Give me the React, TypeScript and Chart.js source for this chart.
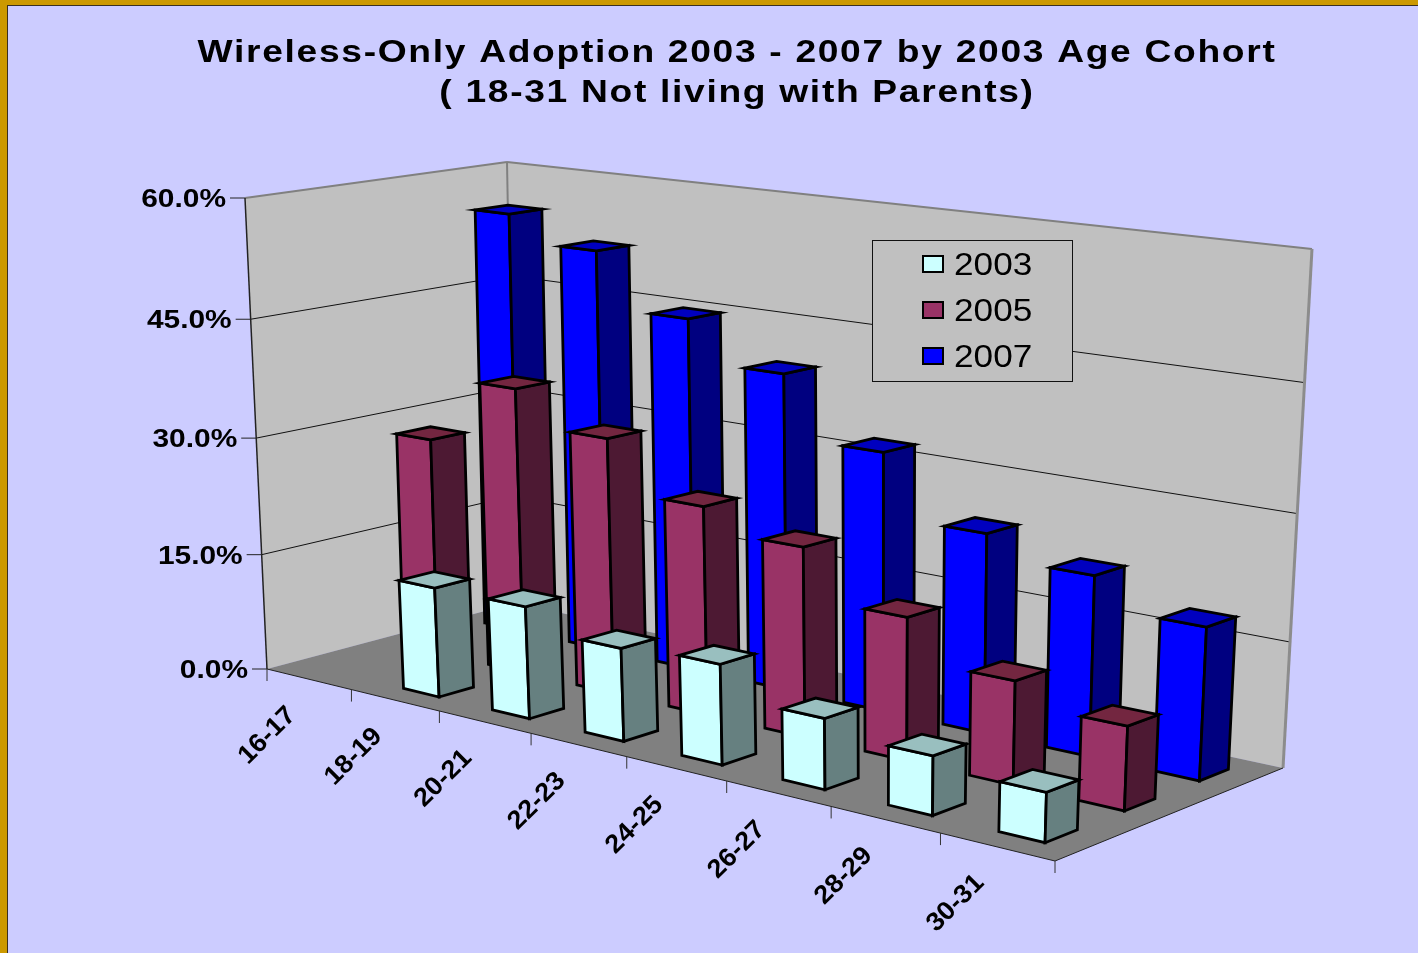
import React, { useEffect, useRef } from "react";
import { Chart, registerables } from "chart.js";

Chart.register(...registerables);

// Chart content
const titleLines = ["Wireless-Only Adoption 2003 - 2007 by 2003 Age Cohort", "( 18-31 Not living with Parents)"];
const ageCohorts = ["16-17", "18-19", "20-21", "22-23", "24-25", "26-27", "28-29", "30-31"];
const seriesNames = ["2003", "2005", "2007"];
const values2003 = [null, 13.9, 14, 11.4, 12.1, 8.4, 6.9, 5.7];
const values2005 = [28.1, 36.5, 32.2, 25.9, 23.2, 17.2, 12.3, 9.8];
const values2007 = [55.2, 51.9, 44.9, 39.8, 32.1, 24.4, 21.7, 18.1];

const frontColors = ["#CCFFFF", "#993366", "#0000FF"];
const sideColors = ["#668080", "#4D1933", "#000080"];
const topColors = ["#99BFBF", "#732640", "#0000BF"];

type Pt = [number, number];

// Plot box corners in canvas pixels: front-left, front-right, back-right, back-left.
const FLOOR: Pt[] = [[267, 669], [1055, 861], [1283, 768], [515, 603]];
const CEILING: Pt[] = [[245, 198], [1072, 304], [1312, 249], [507, 162]];
const HEIGHT_FORESHORTENING = 1.04;

function quadMap(q: Pt[]) {
  const [[x0, y0], [x1, y1], [x2, y2], [x3, y3]] = q;
  const sx = x0 - x1 + x2 - x3;
  const sy = y0 - y1 + y2 - y3;
  const dx1 = x1 - x2, dx2 = x3 - x2, dy1 = y1 - y2, dy2 = y3 - y2;
  const den = dx1 * dy2 - dx2 * dy1;
  const g = (sx * dy2 - dx2 * sy) / den;
  const h = (dx1 * sy - sx * dy1) / den;
  const a = x1 - x0 + g * x1, b = x3 - x0 + h * x3;
  const d = y1 - y0 + g * y1, e = y3 - y0 + h * y3;
  return (u: number, w: number): Pt => {
    const z = g * u + h * w + 1;
    return [(a * u + b * w + x0) / z, (d * u + e * w + y0) / z];
  };
}
const floorAt = quadMap(FLOOR);
const ceilingAt = quadMap(CEILING);

function project(u: number, w: number, v: number): Pt {
  const t = v / (v + (1 - v) * HEIGHT_FORESHORTENING);
  const lo = floorAt(u, w);
  const hi = ceilingAt(u, w);
  return [lo[0] + (hi[0] - lo[0]) * t, lo[1] + (hi[1] - lo[1]) * t];
}

function poly(ctx: CanvasRenderingContext2D, pts: Pt[], fill?: string, stroke?: string, lw = 1) {
  ctx.beginPath();
  pts.forEach((p, i) => (i ? ctx.lineTo(p[0], p[1]) : ctx.moveTo(p[0], p[1])));
  ctx.closePath();
  if (fill) { ctx.fillStyle = fill; ctx.fill(); }
  if (stroke) { ctx.strokeStyle = stroke; ctx.lineWidth = lw; ctx.stroke(); }
}

function line(ctx: CanvasRenderingContext2D, a: Pt, b: Pt, color: string, lw: number) {
  ctx.beginPath();
  ctx.moveTo(a[0], a[1]);
  ctx.lineTo(b[0], b[1]);
  ctx.strokeStyle = color;
  ctx.lineWidth = lw;
  ctx.stroke();
}

// Text widened horizontally, as the chart's labels are set in an extended face.
function wideText(ctx: CanvasRenderingContext2D, text: string, x: number, y: number, font: string, stretch: number, align: CanvasTextAlign, angle = 0) {
  ctx.save();
  ctx.translate(x, y);
  ctx.rotate(angle);
  ctx.scale(stretch, 1);
  ctx.font = font;
  ctx.textAlign = align;
  ctx.textBaseline = "middle";
  ctx.fillStyle = "#000";
  ctx.fillText(text, 0, 0);
  ctx.restore();
}

const BAR_WIDTH_FRACTION = 0.405;
const BAR_DEPTH_FRACTION = 0.4;
const BAR_EDGE = 2.8;
const TITLE_CENTER = 737;
const TITLE_STRETCH = 1.2;

const pageFrame = {
  id: "pageFrame",
  beforeDraw(chart: any) {
    const { ctx, width, height } = chart;
    ctx.fillStyle = "#CC9900";
    ctx.fillRect(0, 0, width, height);
    ctx.fillStyle = "#CCCCFF";
    ctx.fillRect(8, 6, width, height);
    ctx.strokeStyle = "#3A3020";
    ctx.lineWidth = 1;
    ctx.strokeRect(7.5, 5.5, width, height);
    // The title layer follows directly: widen it about its own centre.
    ctx.save();
    ctx.translate(TITLE_CENTER, 0);
    ctx.scale(TITLE_STRETCH, 1);
    ctx.translate(-TITLE_CENTER, 0);
    (ctx as any).letterSpacing = "1.4px";
  },
};

const box3d = {
  id: "box3d",
  beforeDatasetsDraw(chart: any) {
    const ctx: CanvasRenderingContext2D = chart.ctx;
    (ctx as any).letterSpacing = "0px";
    ctx.restore();
    const { x, y, depth } = chart.scales;
    const uOf = (i: number) => (x.getPixelForTick(i) - x.left) / x.width;
    const wOf = (i: number) => (depth.getPixelForTick(i) - depth.left) / depth.width;
    const vOf = (val: number) => (y.bottom - y.getPixelForValue(val)) / y.height;
    const bandU = 1 / ageCohorts.length;
    const bandW = 1 / seriesNames.length;

    ctx.save();
    ctx.lineJoin = "miter";

    // Walls and floor
    poly(ctx, [project(0, 0, 0), project(0, 1, 0), project(0, 1, 1), project(0, 0, 1)], "#C0C0C0");
    poly(ctx, [project(0, 1, 0), project(1, 1, 0), project(1, 1, 1), project(0, 1, 1)], "#C0C0C0");
    poly(ctx, [project(0, 0, 0), project(1, 0, 0), project(1, 1, 0), project(0, 1, 0)], "#808080");

    // Horizontal gridlines and value axis ticks
    y.ticks.forEach((t: any) => {
      const v = vOf(t.value);
      if (v > 0 && v < 1) {
        line(ctx, project(0, 0, v), project(0, 1, v), "#111", 1);
        line(ctx, project(0, 1, v), project(1, 1, v), "#111", 1);
      }
      const p = project(0, 0, v);
      line(ctx, [p[0] - 15, p[1]], p, "#222", 1);
      wideText(ctx, t.label, p[0] - 19, p[1] + 2, "bold 26px 'Liberation Sans'", 1.15, "right");
    });

    // Box outline
    line(ctx, project(0, 0, 1), project(0, 1, 1), "#808080", 2);
    line(ctx, project(0, 1, 1), project(1, 1, 1), "#808080", 2);
    line(ctx, project(0, 1, 0), project(0, 1, 1), "#808080", 2);
    line(ctx, project(1, 1, 0), project(1, 1, 1), "#8C8C8C", 3);
    line(ctx, project(0, 0, 0), project(0, 0, 1), "#222", 1.5);
    line(ctx, project(0, 0, 0), project(1, 0, 0), "#222", 1);
    line(ctx, project(1, 0, 0), project(1, 1, 0), "#222", 1);

    // Category axis ticks and labels
    ageCohorts.forEach((_, i) => {
      const p = project(i * bandU, 0, 0);
      line(ctx, p, [p[0], p[1] + 12], "#333", 1);
    });
    const last = project(1, 0, 0);
    line(ctx, last, [last[0], last[1] + 12], "#333", 1);
    x.ticks.forEach((t: any, i: number) => {
      const p = project(uOf(i), 0, 0);
      wideText(ctx, t.label, p[0] - 17, p[1] + 32, "bold 26px 'Liberation Sans'", 1.04, "right", -Math.PI / 4);
    });

    // Bars, back row first and left to right within a row
    for (let s = seriesNames.length - 1; s >= 0; s--) {
      const data = chart.data.datasets[s].data;
      data.forEach((val: number | null, i: number) => {
        if (val == null) return;
        const u0 = uOf(i) - (bandU * BAR_WIDTH_FRACTION) / 2;
        const u1 = uOf(i) + (bandU * BAR_WIDTH_FRACTION) / 2;
        const w0 = wOf(s) - (bandW * BAR_DEPTH_FRACTION) / 2;
        const w1 = wOf(s) + (bandW * BAR_DEPTH_FRACTION) / 2;
        const v = vOf(val);
        poly(ctx, [project(u0, w0, 0), project(u1, w0, 0), project(u1, w0, v), project(u0, w0, v)], frontColors[s], "#000", BAR_EDGE);
        poly(ctx, [project(u1, w0, 0), project(u1, w1, 0), project(u1, w1, v), project(u1, w0, v)], sideColors[s], "#000", BAR_EDGE);
        poly(ctx, [project(u0, w0, v), project(u1, w0, v), project(u1, w1, v), project(u0, w1, v)], topColors[s], "#000", BAR_EDGE);
      });
    }

    // Legend
    ctx.fillStyle = "#C0C0C0";
    ctx.fillRect(872.5, 240.5, 200, 141);
    ctx.strokeStyle = "#111";
    ctx.lineWidth = 1;
    ctx.strokeRect(872.5, 240.5, 200, 141);
    chart.data.datasets.forEach((ds: any, i: number) => {
      const cy = 264 + i * 46;
      ctx.fillStyle = frontColors[i];
      ctx.fillRect(923, cy - 8, 20, 16);
      ctx.strokeStyle = "#000";
      ctx.lineWidth = 2;
      ctx.strokeRect(923, cy - 8, 20, 16);
      wideText(ctx, ds.label, 954, cy + 2, "32px 'Liberation Sans'", 1.1, "left");
    });
    ctx.restore();
    return false;
  },
};

export default function App() {
  const ref = useRef<HTMLCanvasElement>(null);
  useEffect(() => {
    const chart = new Chart(ref.current as HTMLCanvasElement, {
      type: "bar",
      data: {
        labels: ageCohorts,
        datasets: [
          { label: seriesNames[0], data: values2003, backgroundColor: frontColors[0] },
          { label: seriesNames[1], data: values2005, backgroundColor: frontColors[1] },
          { label: seriesNames[2], data: values2007, backgroundColor: frontColors[2] },
        ],
      },
      options: {
        responsive: false,
        animation: false,
        layout: { padding: { left: 56 } },
        plugins: {
          legend: { display: false },
          tooltip: { enabled: false },
          title: {
            display: true,
            text: titleLines,
            color: "#000",
            font: { family: "'Liberation Sans'", size: 31, weight: "bold", lineHeight: 1.29 },
            padding: { top: 33, bottom: 20 },
          },
        },
        scales: {
          x: { display: false, ticks: { autoSkip: false } },
          y: {
            display: false,
            min: 0,
            max: 60,
            ticks: { stepSize: 15, callback: (v: any) => Number(v).toFixed(1) + "%" },
          },
          depth: { type: "category", axis: "x", position: "bottom", labels: seriesNames, display: false, offset: true, ticks: { autoSkip: false } },
        },
      } as any,
      plugins: [pageFrame, box3d],
    });
    return () => chart.destroy();
  }, []);
  return (
    <div style={{ position: "absolute", left: 0, top: 0, width: 1418, height: 953, overflow: "hidden" }}>
      <canvas ref={ref} width={1418} height={953} style={{ display: "block" }} />
    </div>
  );
}
